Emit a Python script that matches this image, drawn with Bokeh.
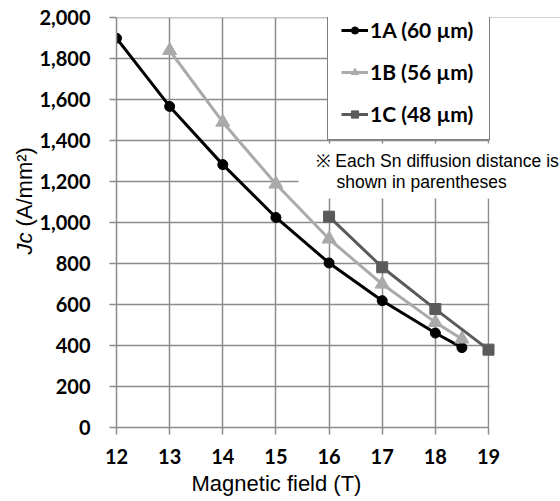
from bokeh.plotting import figure
from bokeh.models import (Range1d, FixedTicker, NumeralTickFormatter, Label,
                          BoxAnnotation, Title)
from bokeh.embed import file_html
from bokeh.resources import INLINE
import math

# ---- data ----
x_1a = [12, 13, 14, 15, 16, 17, 18, 18.5]
y_1a = [1900, 1567, 1283, 1025, 803, 619, 461, 390]
x_1b = [13, 14, 15, 16, 17, 18, 18.5]
y_1b = [1840, 1490, 1188, 920, 700, 513, 432]
x_1c = [16, 17, 18, 19]
y_1c = [1029, 782, 578, 380]
labels = ["1A (60 \u00b5m)", "1B (56 \u00b5m)", "1C (48 \u00b5m)"]
x_ticks = [12, 13, 14, 15, 16, 17, 18, 19]
y_ticks = [0, 200, 400, 600, 800, 1000, 1200, 1400, 1600, 1800, 2000]

GRID = "#8c8c8c"
TICK_FONT = "Lato"

# ---- layout geometry (page pixels) ----
W, H = 560, 501
SHIFT = 20                       # canvas is shifted left by this much
FL, F19, FT, FB = 116, 488, 17, 427
X0, X1 = 12, 19
Y1 = 2001
x_end = X0 + (X1 - X0) * (W - FL) / (F19 - FL)

def dx(px):
    return X0 + (px - FL) * (X1 - X0) / (F19 - FL)

def dy(py):
    return (FB - py) * Y1 / (FB - FT)

p = figure(width=W + SHIFT, height=H, output_backend="svg", toolbar_location=None,
           x_range=Range1d(X0, x_end), y_range=Range1d(0, Y1),
           min_border_left=FL + SHIFT, min_border_right=0,
           min_border_top=FT, min_border_bottom=H - FB,
           margin=(0, 0, 0, -SHIFT))
p.outline_line_color = None
p.background_fill_color = "white"
p.border_fill_color = "white"

for g in (p.xgrid, p.ygrid):
    g.grid_line_color = GRID
    g.grid_line_width = 1.5
p.xgrid.ticker = FixedTicker(ticks=x_ticks)
p.ygrid.ticker = FixedTicker(ticks=y_ticks)

for ax in (p.xaxis, p.yaxis):
    ax.axis_line_color = GRID
    ax.axis_line_width = 1.5
    ax.major_tick_line_color = GRID
    ax.major_tick_line_width = 1.5
    ax.major_tick_out = 7
    ax.major_tick_in = 0
    ax.minor_tick_line_color = None
    ax.major_label_text_font = TICK_FONT
    ax.major_label_text_font_style = "bold"
    ax.major_label_text_font_size = "20px"
    ax.major_label_text_color = "black"
p.xaxis.ticker = FixedTicker(ticks=x_ticks)
p.xaxis.bounds = (X0, X1)
p.yaxis.ticker = FixedTicker(ticks=y_ticks)
p.yaxis.bounds = (0, 2000)
p.yaxis.formatter = NumeralTickFormatter(format="0,0")
p.yaxis.major_label_standoff = 19
p.xaxis.major_label_standoff = 14

# hide grid beyond x = 19
p.add_layout(BoxAnnotation(left=dx(489), fill_color="white", fill_alpha=1.0,
                           line_color=None, level="underlay"))

# ---- series ----
p.line(x_1a, y_1a, line_color="black", line_width=3, legend_label=labels[0])
p.scatter(x_1a, y_1a, marker="circle", size=10, fill_color="black", line_color="black",
          legend_label=labels[0])
p.line(x_1b, y_1b, line_color="#aaaaaa", line_width=3, legend_label=labels[1])
p.scatter(x_1b, y_1b, marker="triangle", size=14, fill_color="#aaaaaa", line_color="#aaaaaa",
          legend_label=labels[1])
p.line(x_1c, y_1c, line_color="#5a5a5a", line_width=3, legend_label=labels[2])
p.scatter(x_1c, y_1c, marker="square", size=11, fill_color="#5a5a5a", line_color="#5a5a5a",
          legend_label=labels[2])

lg = p.legend[0]
lg.location = (327 - FL, FB - 140)
lg.margin = 0
lg.padding = 13
lg.spacing = 17
lg.glyph_width = 27
lg.glyph_height = 18
lg.label_height = 18
lg.label_width = 106
lg.label_standoff = 2
lg.label_text_font = TICK_FONT
lg.label_text_font_style = "bold"
lg.label_text_font_size = "21px"
lg.label_text_color = "black"
lg.label_text_baseline = "middle"
lg.border_line_color = "black"
lg.border_line_width = 1.5
lg.background_fill_color = "white"
lg.background_fill_alpha = 1.0

# note box (white) and text
p.add_layout(BoxAnnotation(left=dx(298), right=dx(490), top=dy(143), bottom=dy(198),
                           fill_color="white", fill_alpha=1.0, line_color=None,
                           level="underlay"))
p.add_layout(Label(x=dx(315), y=dy(160), text="\u203b Each Sn diffusion distance is",
                   text_font="Liberation Sans", text_font_size="17.5px",
                   text_align="left", text_baseline="middle", text_color="black"))
p.add_layout(Label(x=dx(336), y=dy(181), text="shown in parentheses",
                   text_font="Liberation Sans", text_font_size="17.5px",
                   text_align="left", text_baseline="middle", text_color="black"))

# x axis title
p.add_layout(Title(text="Magnetic field (T)", align="left", offset=191 - FL,
                   text_font="Liberation Sans", text_font_size="22px",
                   text_font_style="normal", text_color="black", standoff=4), "below")

# y axis title (italic Jc + regular unit), placed in the left panel
p.add_layout(Label(x=dx(24), y=dy(232), text="Jc", angle=math.pi / 2,
                   text_font="Liberation Sans", text_font_size="22px", text_font_style="italic",
                   text_align="right", text_baseline="alphabetic", text_color="black"), "left")
p.add_layout(Label(x=dx(24), y=dy(226), text="(A/mm\u00b2)", angle=math.pi / 2,
                   text_font="Liberation Sans", text_font_size="22px",
                   text_align="left", text_baseline="alphabetic", text_color="black"), "left")

open("out.html", "w").write(file_html(p, INLINE))
